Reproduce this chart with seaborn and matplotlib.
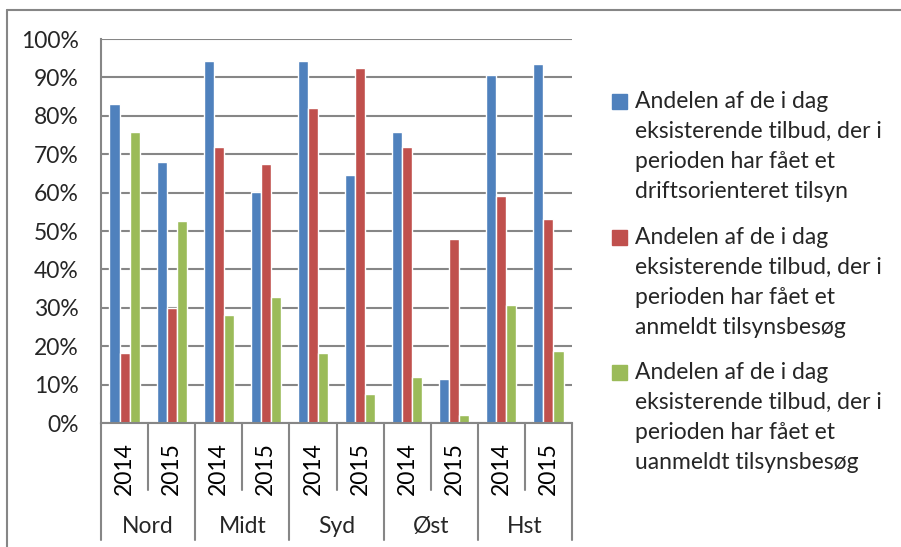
import pandas as pd
import matplotlib.pyplot as plt
import matplotlib.transforms as mtransforms
from matplotlib.lines import Line2D
from matplotlib.patches import Rectangle
from matplotlib.ticker import PercentFormatter
import seaborn as sns

# data
regions = ['Nord', 'Midt', 'Syd', 'Øst', 'Hst']
years = ['2014', '2015']
series = [
    'Andelen af de i dag\neksisterende tilbud, der i\nperioden har fået et\ndriftsorienteret tilsyn',
    'Andelen af de i dag\neksisterende tilbud, der i\nperioden har fået et\nanmeldt tilsynsbesøg',
    'Andelen af de i dag\neksisterende tilbud, der i\nperioden har fået et\nuanmeldt tilsynsbesøg',
]
drift = [83.0, 67.9, 94.4, 60.1, 94.4, 64.5, 75.8, 11.4, 90.5, 93.5]
anmeldt = [18.3, 30.0, 71.9, 67.4, 82.1, 92.4, 71.9, 47.8, 59.1, 53.2]
uanmeldt = [75.8, 52.7, 28.1, 32.7, 18.3, 7.5, 11.9, 2.0, 30.7, 18.8]
colors = ['#4F81BD', '#C0504D', '#9BBB59']

periods = [f'{r} {y}' for r in regions for y in years]
rows = []
for name, vals in zip(series, [drift, anmeldt, uanmeldt]):
    for p, v in zip(periods, vals):
        rows.append({'periode': p, 'andel': v / 100, 'serie': name})
df = pd.DataFrame(rows)

sns.set_style('white')
plt.rcParams['font.family'] = ['Lato', 'DejaVu Sans']
plt.rcParams['font.size'] = 16.5
grey = '#868686'

W, H = 901, 547
fig = plt.figure(figsize=(W / 100, H / 100), dpi=100)
ax = fig.add_axes([101 / W, 1 - 423 / H, (572 - 101) / W, 384 / H])

sns.barplot(data=df, x='periode', y='andel', hue='serie', order=periods,
            hue_order=series, palette=colors, saturation=1, width=0.64,
            legend=False, ax=ax)

ax.set_xlim(-0.5, len(periods) - 0.5)
ax.set_ylim(0, 1)
ax.set_yticks([i / 10 for i in range(11)])
ax.yaxis.set_major_formatter(PercentFormatter(1.0, decimals=0))
ax.yaxis.grid(True, color=grey, lw=1.5)
ax.set_axisbelow(True)
ax.set_xlabel('')
ax.set_ylabel('')
for s in ['top', 'right']:
    ax.spines[s].set_visible(False)
for s in ['left', 'bottom']:
    ax.spines[s].set_color(grey)
    ax.spines[s].set_linewidth(1.5)

ax.set_xticks(range(len(periods)))
ax.set_xticklabels([y for r in regions for y in years], rotation=90)
ax.tick_params(axis='x', length=0, pad=14, colors='black')
ax.tick_params(axis='y', length=5, width=1.5, color=grey, pad=11)

# two-level category axis: separators and region names
trans = mtransforms.blended_transform_factory(ax.transData, ax.transAxes)
for i in range(len(periods) + 1):
    ybot = -0.305 if i % 2 == 0 else -0.1745
    ax.add_line(Line2D([i - 0.5, i - 0.5], [0, ybot], transform=trans,
                       color=grey, lw=1.5, clip_on=False))
for k, r in enumerate(regions):
    ax.text(2 * k + 0.5, -0.27, r, transform=trans, ha='center', va='center')

# legend, Excel style (marker aligned with the first line)
for k, (name, c) in enumerate(zip(series, colors)):
    y0 = 101.7 + k * 135.5
    fig.patches.append(Rectangle((612 / W, 1 - (y0 + 7.5) / H), 15 / W, 15 / H,
                                 transform=fig.transFigure, color=c))
    for j, line in enumerate(name.split('\n')):
        fig.text(635 / W, 1 - (y0 + j * 30) / H, line, ha='left', va='center')

# chart area border (top and left edges visible)
fig.add_artist(Line2D([7 / W, 1.01], [1 - 10 / H, 1 - 10 / H],
                      transform=fig.transFigure, color=grey, lw=1.5))
fig.add_artist(Line2D([7 / W, 7 / W], [1 - 10 / H, -0.01],
                      transform=fig.transFigure, color=grey, lw=1.5))

fig.savefig('out.png', dpi=100)
